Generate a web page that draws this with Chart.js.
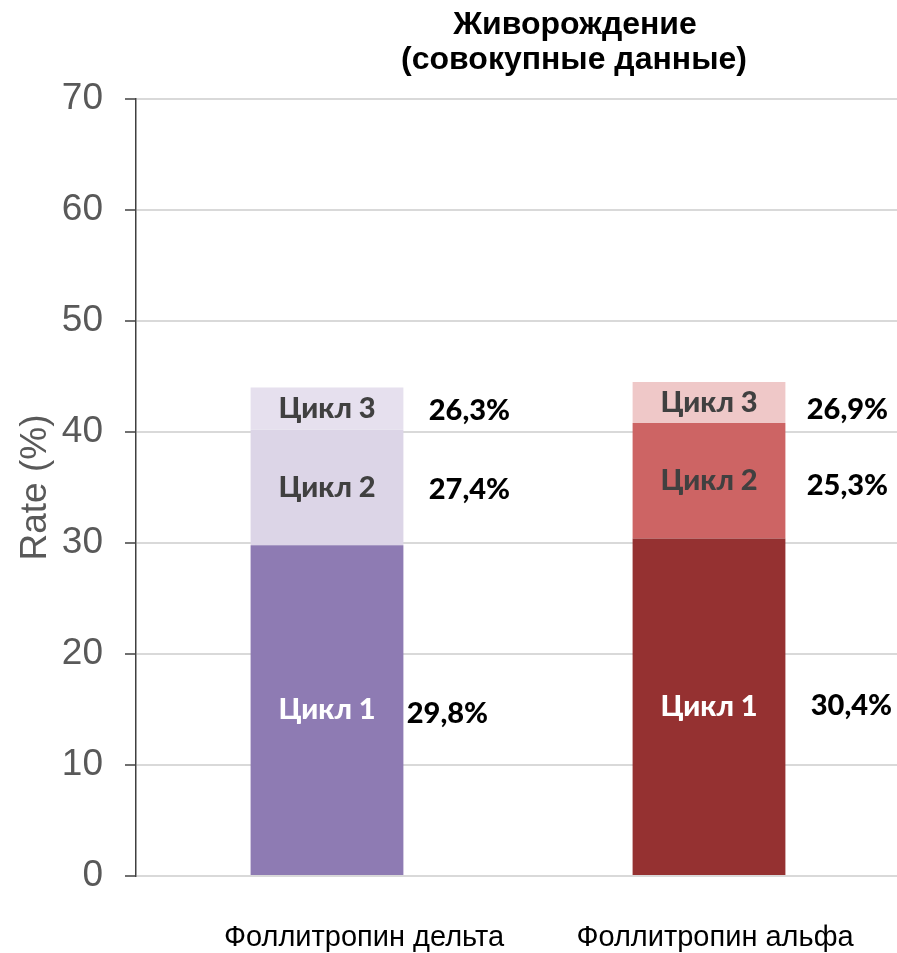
<!DOCTYPE html>
<html lang="ru">
<head>
<meta charset="utf-8">
<title>Живорождение (совокупные данные)</title>
<script src="https://cdn.jsdelivr.net/npm/chart.js@4.4.1/dist/chart.umd.min.js"></script>
<style>
  html, body { margin: 0; padding: 0; background: #ffffff; overflow: hidden; }
  #wrap { position: relative; width: 900px; height: 953px; }
</style>
</head>
<body>
<div id="wrap"><canvas id="chart"></canvas></div>
<script>
// Treatment groups along the x axis
const categories = ['Фоллитропин дельта', 'Фоллитропин альфа'];
// Names of the stacked segments
const cycleNames = ['Цикл 1', 'Цикл 2', 'Цикл 3'];
// Cumulative live birth rate, contribution of each cycle (percentage points)
const cycle1 = [29.8, 30.4];
const cycle2 = [10.4, 10.4];
const cycle3 = [3.8, 3.7];
// Per-cycle live birth rate printed beside each segment (%)
const rate1 = [29.8, 30.4];
const rate2 = [27.4, 25.3];
const rate3 = [26.3, 26.9];
// Y axis ticks
const yTicks = [0, 10, 20, 30, 40, 50, 60, 70];

const titleLines = ['Живорождение', '(совокупные данные)'];

const fmt = v => v.toFixed(1).replace('.', ',') + '%';

const segFont = '900 29px Lato, "Open Sans", sans-serif';
const pctFont = '900 29px Lato, "Open Sans", sans-serif';

const datasets = [
  { label: cycleNames[0], data: cycle1, rates: rate1,
    backgroundColor: ['#8E7BB3', '#953131'], textColor: '#FFFFFF',
    pctDx: [44, 66], pctDy: [4, -1] },
  { label: cycleNames[1], data: cycle2, rates: rate2,
    backgroundColor: ['#DCD5E7', '#CD6464'], textColor: '#404040',
    pctDx: [66, 62], pctDy: [2, 5] },
  { label: cycleNames[2], data: cycle3, rates: rate3,
    backgroundColor: ['#E6E0EE', '#EFC8C8'], textColor: '#404040',
    pctDx: [66, 62], pctDy: [2, 7] }
].map(d => Object.assign(d, {
  borderWidth: 0,
  categoryPercentage: 1.0,
  barPercentage: 0.4
}));

// Segment names inside the bars and the per-cycle rates beside them
const segmentLabels = {
  id: 'segmentLabels',
  afterDatasetsDraw(chart) {
    const ctx = chart.ctx;
    ctx.save();
    ctx.textBaseline = 'middle';
    chart.data.datasets.forEach((ds, di) => {
      const meta = chart.getDatasetMeta(di);
      meta.data.forEach((bar, i) => {
        const p = bar.getProps(['x', 'y', 'base', 'width'], true);
        const cy = (p.y + p.base) / 2;
        ctx.font = segFont;
        ctx.fillStyle = ds.textColor;
        ctx.textAlign = 'center';
        ctx.fillText(ds.label, p.x, cy);
        ctx.font = pctFont;
        ctx.fillStyle = '#000000';
        ctx.fillText(fmt(ds.rates[i]), p.x + p.width / 2 + ds.pctDx[i], cy + ds.pctDy[i]);
      });
    });
    ctx.restore();
  }
};

// Two-line heading above the plot
const heading = {
  id: 'heading',
  afterDraw(chart) {
    const ctx = chart.ctx;
    ctx.save();
    ctx.font = 'bold 32px "Liberation Sans", Arial, sans-serif';
    ctx.fillStyle = '#000000';
    ctx.textAlign = 'center';
    ctx.textBaseline = 'alphabetic';
    ctx.fillText(titleLines[0], 575, 34);
    ctx.fillText(titleLines[1], 574, 69);
    ctx.restore();
  }
};

// Group names under the bars
const groupLabels = {
  id: 'groupLabels',
  afterDraw(chart) {
    const ctx = chart.ctx;
    const x = chart.scales.x;
    const shift = [37, 6];
    ctx.save();
    ctx.font = '29px "Liberation Sans", Arial, sans-serif';
    ctx.fillStyle = '#000000';
    ctx.textAlign = 'center';
    ctx.textBaseline = 'middle';
    categories.forEach((c, i) => {
      ctx.fillText(c, x.getPixelForValue(i) + shift[i], 938);
    });
    ctx.restore();
  }
};

new Chart(document.getElementById('chart'), {
  type: 'bar',
  data: { labels: categories, datasets },
  options: {
    responsive: true,
    maintainAspectRatio: false,
    animation: false,
    layout: { padding: { top: 99, bottom: 69, left: 0, right: 0 } },
    plugins: {
      legend: { display: false },
      tooltip: { enabled: false },
      title: { display: false }
    },
    scales: {
      x: {
        stacked: true,
        grid: { display: false },
        border: { display: false },
        ticks: { display: false }
      },
      y: {
        stacked: true,
        min: 0,
        max: 70,
        afterBuildTicks(scale) { scale.ticks = yTicks.map(v => ({ value: v })); },
        afterFit(scale) { scale.width = 136; },
        ticks: {
          padding: 22,
          color: '#595959',
          font: { family: '"Liberation Sans", Arial, sans-serif', size: 37 }
        },
        grid: {
          color: '#D9D9D9',
          lineWidth: 2,
          tickLength: 11,
          tickColor: '#404040',
          tickWidth: 1.5
        },
        border: { display: true, color: '#404040', width: 1.5 },
        title: {
          display: true,
          text: 'Rate (%)',
          color: '#595959',
          font: { family: '"Liberation Sans", Arial, sans-serif', size: 37 },
          padding: { top: 14, bottom: 10 }
        }
      }
    }
  },
  plugins: [segmentLabels, heading, groupLabels]
});
</script>
</body>
</html>
